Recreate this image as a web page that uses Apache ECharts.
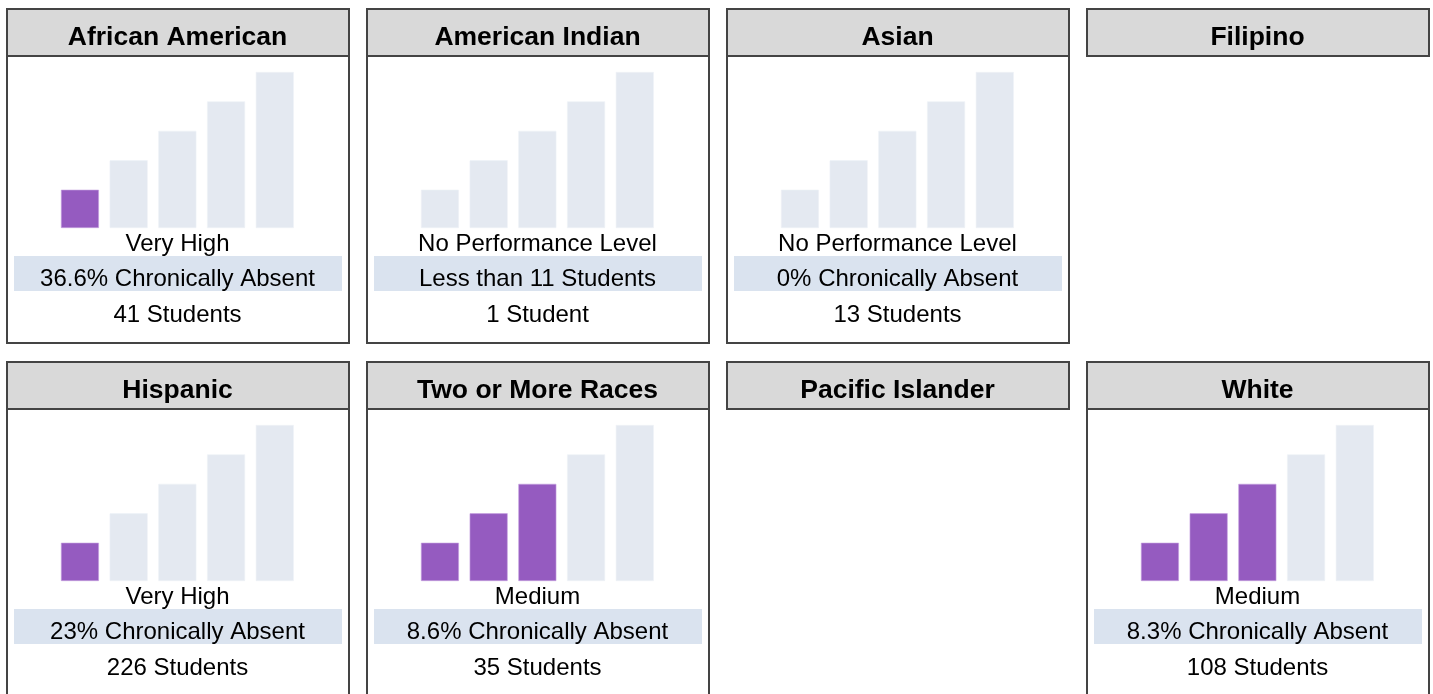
<!DOCTYPE html>
<html>
<head>
<meta charset="utf-8">
<script src="https://cdn.jsdelivr.net/npm/echarts@6/dist/echarts.min.js"></script>
<style>
html, body { margin: 0; padding: 0; background: #fff; }
#main { width: 1433px; height: 694px; }
</style>
</head>
<body>
<div id="main"></div>
<script>
/* data */
var groups = ['African American', 'American Indian', 'Asian', 'Filipino',
    'Hispanic', 'Two or More Races', 'Pacific Islander', 'White'];
var levels = ['Level 1', 'Level 2', 'Level 3', 'Level 4', 'Level 5'];
var levelHeights = [1.3, 2.3, 3.3, 4.3, 5.3];
var hasChart = [true, true, true, false, true, true, false, true];
var filledBars = [1, 0, 0, 0, 1, 3, 0, 3];
var statusText = ['Very High', 'No Performance Level', 'No Performance Level', '',
    'Very High', 'Medium', '', 'Medium'];
var rateText = ['36.6% Chronically Absent', 'Less than 11 Students', '0% Chronically Absent', '',
    '23% Chronically Absent', '8.6% Chronically Absent', '', '8.3% Chronically Absent'];
var studentText = ['41 Students', '1 Student', '13 Students', '',
    '226 Students', '35 Students', '', '108 Students'];

/* layout */
var colX = [6, 366, 726, 1086];
var rowY = [8, 361];
var cardW = 343, headH = 48, bodyH = 287;
var purple = '#955bc0', grey = '#e4e9f1', band = '#dae3ef', edge = '#444';
var family = 'Arial, Helvetica, sans-serif';

function label(text, x, y, size, weight) {
    return {
        type: 'text', silent: true, z: 10,
        style: {
            text: text, x: x, y: y, align: 'center', verticalAlign: 'middle',
            fontFamily: family, fontSize: size, fontWeight: weight, fill: '#000'
        }
    };
}

var grids = [], xAxes = [], yAxes = [], series = [], graphics = [];
var gi = 0;

for (var i = 0; i < groups.length; i++) {
    var x0 = colX[i % 4];
    var y0 = rowY[Math.floor(i / 4)];
    var cx = x0 + cardW / 2;

    /* header */
    graphics.push({
        type: 'rect', silent: true,
        shape: { x: x0 + 1, y: y0 + 1, width: cardW - 1, height: headH - 1 },
        style: { fill: '#d9d9d9', stroke: edge, lineWidth: 2 }
    });
    graphics.push(label(groups[i], cx, y0 + 30, 26.5, 'bold'));

    if (!hasChart[i]) continue;

    /* body frame */
    graphics.push({
        type: 'rect', silent: true, z: 5,
        shape: { x: x0 + 1, y: y0 + headH, width: cardW - 1, height: bodyH },
        style: { fill: 'none', stroke: edge, lineWidth: 2 }
    });
    graphics.push({
        type: 'rect', silent: true,
        shape: { x: x0 + 8, y: y0 + 248, width: 328, height: 35 },
        style: { fill: band }
    });
    graphics.push(label(statusText[i], cx, y0 + 236, 24, 'normal'));
    graphics.push(label(rateText[i], cx, y0 + 271, 24, 'normal'));
    graphics.push(label(studentText[i], cx, y0 + 307, 24, 'normal'));

    /* bars */
    grids.push({ left: x0 + 49.6, top: y0 + 64, width: 243.5, height: 156 });
    xAxes.push({ type: 'category', gridIndex: gi, data: levels, show: false });
    yAxes.push({ type: 'value', gridIndex: gi, min: 0, max: 5.3, show: false });
    var filled = filledBars[i];
    series.push({
        type: 'bar', xAxisIndex: gi, yAxisIndex: gi,
        barCategoryGap: '22%', silent: true, animation: false,
        data: levelHeights.map(function (v, k) {
            return {
                value: v,
                itemStyle: k < filled
                    ? { color: purple, borderColor: '#c7a3e0', borderWidth: 0.6 }
                    : { color: grey, borderColor: '#eef1f6', borderWidth: 0.6 }
            };
        })
    });
    gi++;
}

var myChart = echarts.init(document.getElementById('main'));
var option = {
    animation: false,
    grid: grids,
    xAxis: xAxes,
    yAxis: yAxes,
    series: series,
    graphic: graphics
};
myChart.setOption(option);
</script>
</body>
</html>
